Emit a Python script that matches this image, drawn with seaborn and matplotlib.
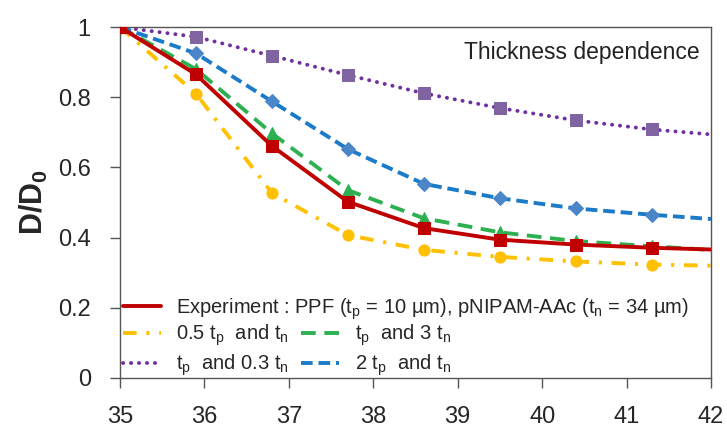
import numpy as np
import pandas as pd
import matplotlib
matplotlib.use("Agg")
import matplotlib.pyplot as plt
from matplotlib.lines import Line2D
import seaborn as sns

# Data
temp = [35, 35.9, 36.8, 37.7, 38.6, 39.5, 40.4, 41.3, 42]
experiment = [1.0, 0.865, 0.661, 0.502, 0.427, 0.394, 0.380, 0.371, 0.366]
half_tp = [1.0, 0.810, 0.527, 0.407, 0.365, 0.345, 0.332, 0.323, 0.320]
three_tn = [1.0, 0.880, 0.697, 0.535, 0.455, 0.415, 0.390, 0.375, 0.365]
tenth_tn = [1.0, 0.972, 0.918, 0.863, 0.811, 0.769, 0.734, 0.708, 0.694]
two_tp = [1.0, 0.925, 0.788, 0.652, 0.553, 0.512, 0.483, 0.465, 0.453]

xticks = [35, 36, 37, 38, 39, 40, 41, 42]
yticks = [0, 0.2, 0.4, 0.6, 0.8, 1]
ytick_labels = ["0", "0.2", "0.4", "0.6", "0.8", "1"]

tp = r"t$_{\rm p}$"
tn = r"t$_{\rm n}$"

sns.set_theme(style="white")
plt.rcParams["font.family"] = ["Liberation Sans", "DejaVu Sans"]
plt.rcParams["mathtext.fontset"] = "custom"
plt.rcParams["mathtext.rm"] = "Liberation Sans"
plt.rcParams["mathtext.bf"] = "Liberation Sans:bold"

fig = plt.figure(figsize=(7.27, 4.29), dpi=100)
ax = fig.add_axes([0.165, 0.119, 0.813, 0.818])

series = [
    # name, values, line colour, marker colour, marker, dashes, label
    ("exp", experiment, "#C00000", "#C00000", "s", "-",
     f"Experiment : PPF ({tp} = 10 µm), pNIPAM-AAc ({tn} = 34 µm)"),
    ("half", half_tp, "#FFC000", "#FFC000", "o", (0, (3.5, 2.5, 0.8, 2.5)),
     f"0.5 {tp}  and {tn}"),
    ("tenth", tenth_tn, "#7030A0", "#8064A2", "s", (0, (0.05, 2.0)),
     f"{tp}  and 0.3 {tn}"),
    ("three", three_tn, "#2DB04F", "#2DB04F", "^", (0, (3.8, 2.2)),
     f"{tp}  and 3 {tn}"),
    ("two", two_tp, "#1B7BC8", "#4A86C8", "D", (0, (3.0, 1.5)),
     f"2 {tp}  and {tn}"),
]

handles = {}
for name, vals, lc, mc, mk, ls, label in series:
    df = pd.DataFrame({"T": temp, "D": vals})
    sns.lineplot(data=df, x="T", y="D", ax=ax, color=lc, linewidth=2.8,
                 linestyle=ls, marker=mk, markersize=8 if mk != "D" else 7,
                 markerfacecolor=mc, markeredgecolor=mc,
                 markevery=slice(0, 8), legend=False)
    line = ax.lines[-1]
    h = Line2D([], [], color=lc, linewidth=2.8, linestyle=ls)
    if name == "tenth":
        line.set_dash_capstyle("round")
        h.set_dash_capstyle("round")
    handles[name] = (h, label)

# red experiment line on top
ax.lines[0].set_zorder(4)

ax.set_xlim(35, 42)
ax.set_ylim(0, 1)
ax.set_xticks(xticks)
ax.set_yticks(yticks)
ax.set_yticklabels(ytick_labels)
ax.tick_params(axis="both", labelsize=17, direction="out", length=7,
               width=1, color="#555555", bottom=True, left=True)
ax.tick_params(axis="x", pad=13)
ax.tick_params(axis="y", pad=14)
for sp in ax.spines.values():
    sp.set_color("#555555")
    sp.set_linewidth(1)

ax.set_xlabel("")
ax.set_ylabel(r"D/D$_{\mathbf{0}}$", fontsize=22, fontweight="bold",
              labelpad=6)

ax.text(0.98, 0.96, "Thickness dependence", transform=ax.transAxes,
        ha="right", va="top", fontsize=16.5, color="#222222")

leg_kw = dict(frameon=False, fontsize=14.5, handlelength=1.9,
              handletextpad=0.75, borderaxespad=0, borderpad=0)
leg1 = ax.legend(handles=[handles["exp"][0]], labels=[handles["exp"][1]],
                 loc="lower left", bbox_to_anchor=(0.005, 0.16), **leg_kw)
ax.add_artist(leg1)
order = ["half", "tenth", "three", "two"]
ax.legend(handles=[handles[k][0] for k in order],
          labels=[handles[k][1] for k in order],
          loc="lower left", bbox_to_anchor=(0.005, 0.0), ncol=2,
          columnspacing=0.6, labelspacing=0.2, **leg_kw)

fig.savefig("out.png", dpi=100)
